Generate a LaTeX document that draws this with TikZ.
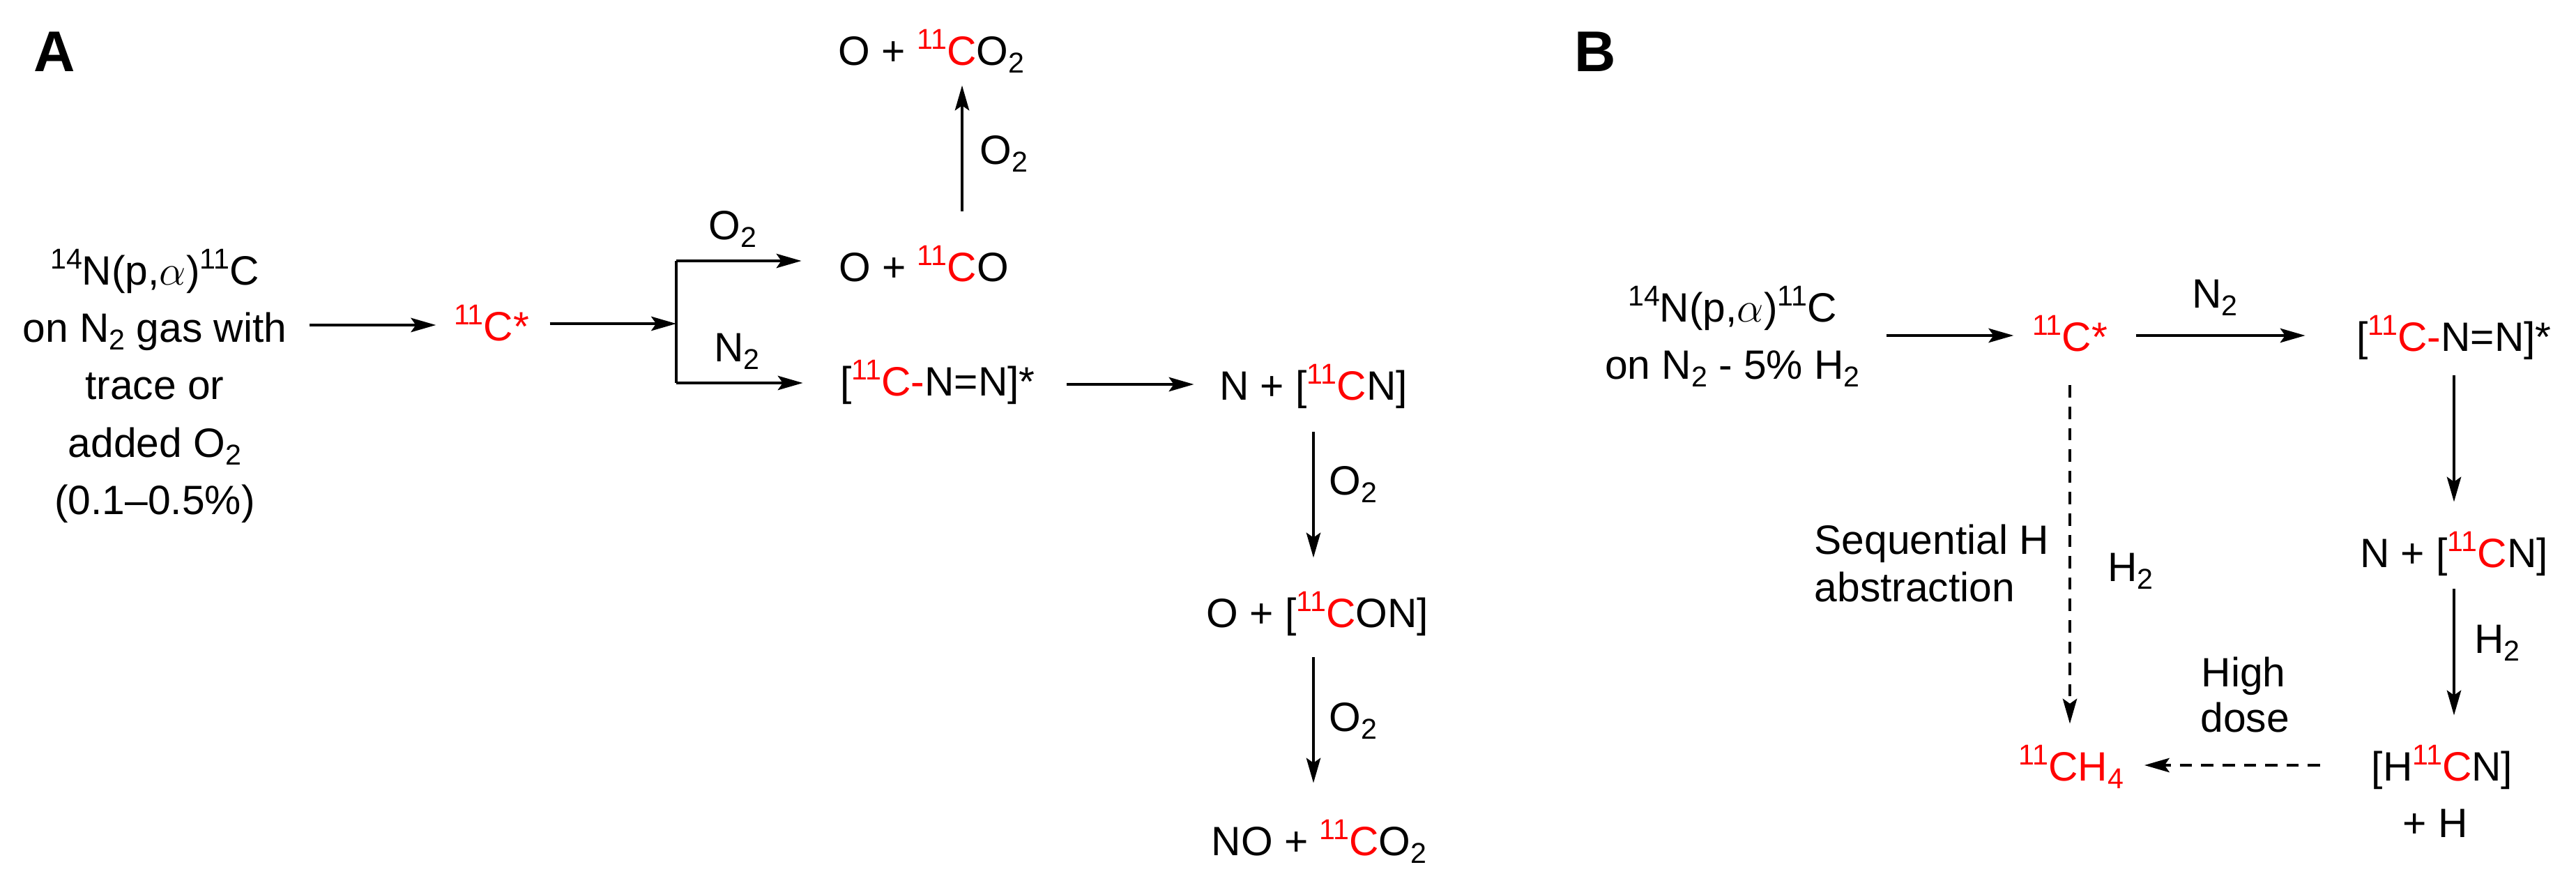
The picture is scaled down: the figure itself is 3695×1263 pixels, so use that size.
\documentclass[tikz,border=0pt]{standalone}
\usepackage{fontspec}
\setmainfont{Liberation Sans}
\usepackage{tikz}
\usetikzlibrary{arrows.meta}
\definecolor{isored}{RGB}{255,0,0}
\newcommand{\rc}[1]{\textcolor{isored}{#1}}
\newcommand{\sps}[1]{\raisebox{0.39em}{\fontsize{11.7pt}{12pt}\selectfont #1}}
\newcommand{\sbs}[1]{\raisebox{-0.19em}{\fontsize{11.7pt}{12pt}\selectfont #1}}
\newcommand{\ce}[1]{\rc{\sps{11}C#1}}
\begin{document}
\begin{tikzpicture}[x=0.01cm,y=-0.01cm,
    chem/.style={inner sep=0pt,text height=15pt,text depth=2.48pt,font=\fontsize{16.7pt}{20pt}\selectfont,anchor=base},
    panel/.style={inner sep=0pt,font=\fontsize{23.4pt}{26pt}\selectfont\bfseries,anchor=base},
    rxn/.style={-{Stealth[length=10.2pt,width=5.8pt,inset=2pt]},line width=1.1pt},
    rxndash/.style={rxn,dash pattern=on 5pt off 3.7pt}]
  \useasboundingbox (0,0) rectangle (3695,1263);

  \node[panel] (labela) at (78,102) {A};
  \node[panel] (labelb) at (2288,102) {B};

  % panel A
  \node[chem] (srca1) at (222,408) {\sps{14}N(p,$\alpha$)\sps{11}C};
  \node[chem] (srca2) at (222,490) {on N\sbs{2} gas with};
  \node[chem] (srca3) at (222,572) {trace or};
  \node[chem] (srca4) at (222,655) {added O\sbs{2}};
  \node[chem] (srca5) at (222,737) {(0.1--0.5\%)};
  \node[chem] (ca) at (705,488) {\ce{*}};
  \node[chem] (oco) at (1325,403) {O + \ce{}O};
  \node[chem] (oco2) at (1336,93) {O + \ce{}O\sbs{2}};
  \node[chem] (cnna) at (1345,567) {[\ce{-}N=N]*};
  \node[chem] (ncna) at (1884,573) {N + [\ce{}N]};
  \node[chem] (ocon) at (1890,899) {O + [\ce{}ON]};
  \node[chem] (noco2) at (1892,1226) {NO + \ce{}O\sbs{2}};

  \coordinate (fork) at (970,464);
  \coordinate (forkup) at (970,374);
  \coordinate (forkdn) at (970,549);
  \coordinate (upa) at (1380,200);
  \coordinate (downa) at (1884,700);

  \draw[rxn,yshift=0.02cm,shorten <=0.32cm,shorten >=0.25cm] (srca2.east |- ca.west) -- (ca.west);
  \draw[rxn,shorten <=0.29cm] (ca.east |- fork) -- (fork);
  \draw[line width=1.1pt] (forkup) -- (forkdn);
  \draw[rxn,shorten >=0.53cm] (forkup) -- (forkup -| oco.west);
  \draw[rxn,shorten >=0.53cm] (forkdn) -- (forkdn -| cnna.west);
  \draw[rxn,shorten <=0.47cm,shorten >=0.20cm] (upa |- oco.north) -- (upa |- oco2.south);
  \draw[rxn,shorten <=0.45cm,shorten >=0.36cm] (cnna.east |- ncna.west) -- (ncna.west);
  \draw[rxn,shorten <=0.37cm,shorten >=0.46cm] (downa |- ncna.south) -- (downa |- ocon.north);
  \draw[rxn,shorten <=0.34cm,shorten >=0.50cm] (downa |- ocon.south) -- (downa |- noco2.north);

  \node[chem] (o2a1) at (1051,343) {O\sbs{2}};
  \node[chem] (n2a1) at (1057,518) {N\sbs{2}};
  \node[chem] (o2a2) at (1440,235) {O\sbs{2}};
  \node[chem] (o2a3) at (1941,709) {O\sbs{2}};
  \node[chem] (o2a4) at (1941,1048) {O\sbs{2}};

  % panel B
  \node[chem] (srcb1) at (2485,461) {\sps{14}N(p,$\alpha$)\sps{11}C};
  \node[chem] (srcb2) at (2485,543) {on N\sbs{2} - 5\% H\sbs{2}};
  \node[chem] (cb) at (2969,503) {\ce{*}};
  \node[chem] (cnnb) at (3520,503) {[\ce{-}N=N]*};
  \node[chem] (ncnb) at (3520,813) {N + [\ce{}N]};
  \node[chem] (hcn) at (3503,1119) {[H\ce{}N]};
  \node[chem] (plush) at (3493,1200) {+ H};
  \node[chem] (ch4) at (2971,1119) {\rc{\sps{11}CH\sbs{4}}};

  \draw[rxn,yshift=0.03cm,shorten <=0.37cm,shorten >=0.26cm] (srcb2.east |- cb.west) -- (cb.west);
  \draw[rxn,yshift=0.03cm,shorten <=0.40cm,shorten >=0.73cm] (cb.east) -- (cnnb.west);
  \draw[rxn,shorten <=0.26cm,shorten >=0.40cm] (cnnb.south) -- (cnnb.south |- ncnb.north);
  \draw[rxn,shorten <=0.22cm,shorten >=0.40cm] (ncnb.south) -- (ncnb.south |- hcn.north);
  \draw[rxndash,xshift=0.11cm,shorten <=0.40cm,shorten >=0.28cm] (cb.south) -- (cb.south |- ch4.north);
  \draw[rxndash,yshift=0.05cm,shorten <=0.73cm,shorten >=0.29cm] (hcn.west) -- (ch4.east);

  \node[chem] (n2b) at (3177,441) {N\sbs{2}};
  \node[chem] (seq1) at (2602,794) [anchor=base west] {Sequential H};
  \node[chem] (seq2) at (2602,862) [anchor=base west] {abstraction};
  \node[chem] (h2b1) at (3056,833) {H\sbs{2}};
  \node[chem] (h2b2) at (3582,936) {H\sbs{2}};
  \node[chem] (high) at (3218,984) {High};
  \node[chem] (dose) at (3220,1049) {dose};
\end{tikzpicture}
\end{document}
